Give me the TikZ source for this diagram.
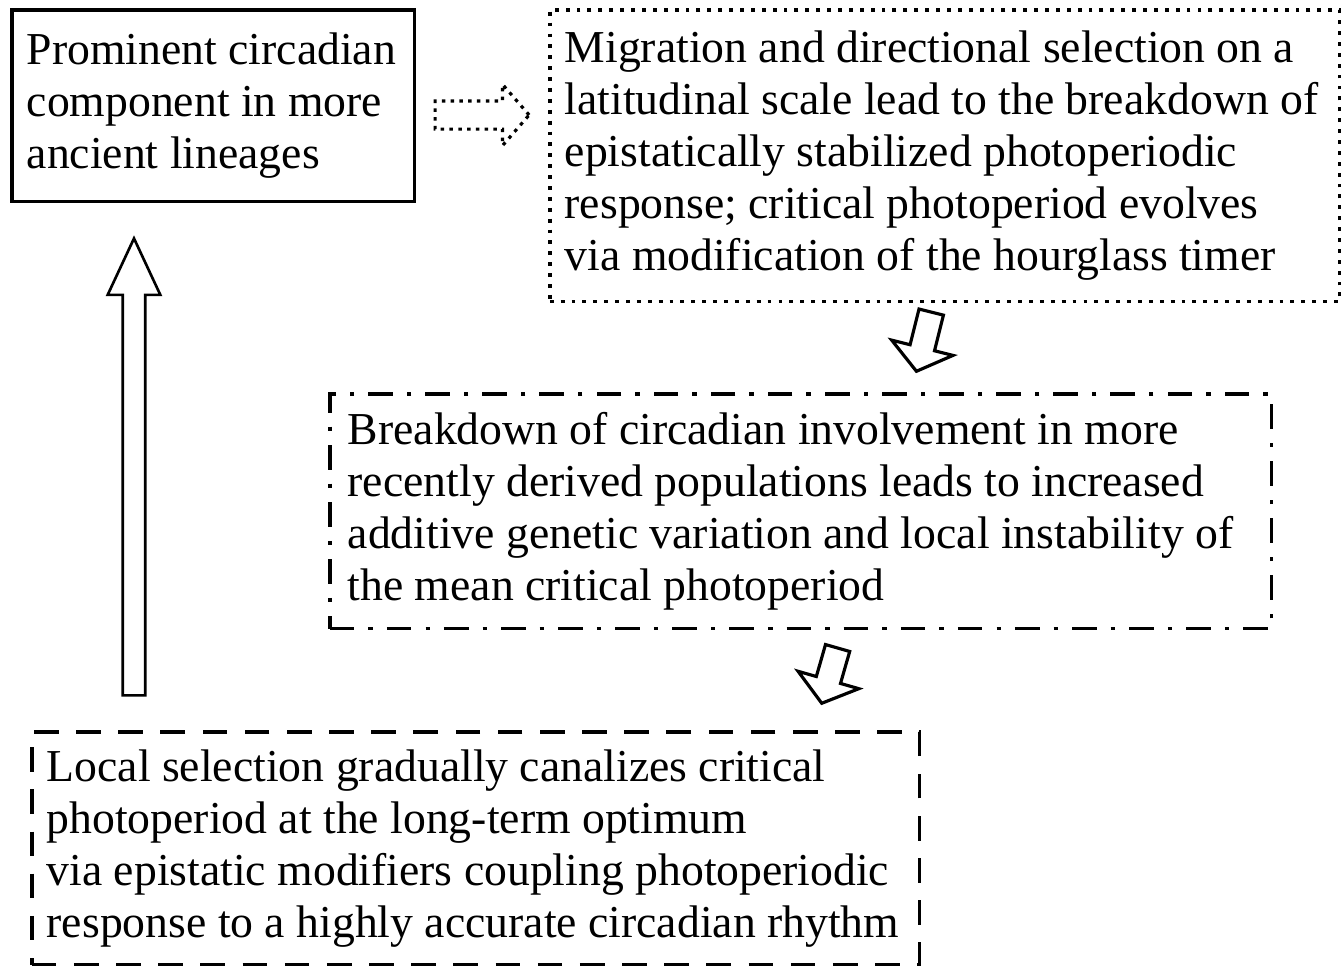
\documentclass[tikz,border=0pt]{standalone}
\usepackage{fontspec}
\setmainfont{Liberation Serif}
\usetikzlibrary{shapes.arrows,positioning}

\begin{document}
\begin{tikzpicture}[
    x=0.02cm, y=-0.02cm,
    box/.style={draw, line width=2pt, align=flush left, anchor=north west, inner ysep=0pt, inner xsep=0.3cm,
      font=\fontsize{26}{29.6}\selectfont},
    hollow/.style={draw, single arrow, inner xsep=0pt, line width=1.8pt}
  ]
    \useasboundingbox (0,0) rectangle (1343,967);

    \node[box, text width=7.46cm, minimum height=3.84cm] (ancient) at (10,8)
      {Prominent circadian\\component in more\\ancient lineages};
    \node[box, dash pattern=on 2.2pt off 4pt, text width=15.2cm, minimum height=5.84cm] (migration) at (548,8)
      {Migration and directional selection on a\\latitudinal scale lead to the breakdown of\\epistatically stabilized photoperiodic\\response; critical photoperiod evolves\\via modification of the hourglass timer};
    \node[box, dash pattern=on 14pt off 8pt on 2.5pt off 8pt, inner xsep=0.36cm, text width=18.12cm, minimum height=4.7cm] (breakdown) at (328,392)
      {Breakdown of circadian involvement in more\\recently derived populations leads to increased\\additive genetic variation and local instability of\\the mean critical photoperiod};
    \node[box, dash pattern=on 14pt off 10pt, text width=17.16cm, minimum height=4.66cm] (local) at (30,730)
      {Local selection gradually canalizes critical\\photoperiod at the long-term optimum\\via epistatic modifiers coupling photoperiodic\\response to a highly accurate circadian rhythm};

    % hollow arrows between the boxes
    \node[hollow, line width=1.5pt, rotate=90, inner ysep=0.2cm, minimum height=9.14cm,
      single arrow head extend=0.3cm, single arrow tip angle=50] (uparrow) at (134,479) {};
    \node[hollow, dash pattern=on 2pt off 3pt, inner ysep=0.25cm, minimum height=1.88cm,
      single arrow head extend=0.33cm, single arrow tip angle=98] (dotarrow) at (476,115) {};
    \node[hollow, rotate=-104, inner ysep=0.22cm, minimum height=1.22cm,
      single arrow head extend=0.38cm, single arrow tip angle=105] (downarrowa) at (925,337) {};
    \node[hollow, rotate=-106, inner ysep=0.22cm, minimum height=1.15cm,
      single arrow head extend=0.38cm, single arrow tip angle=105] (downarrowb) at (831,671) {};
\end{tikzpicture}
\end{document}
